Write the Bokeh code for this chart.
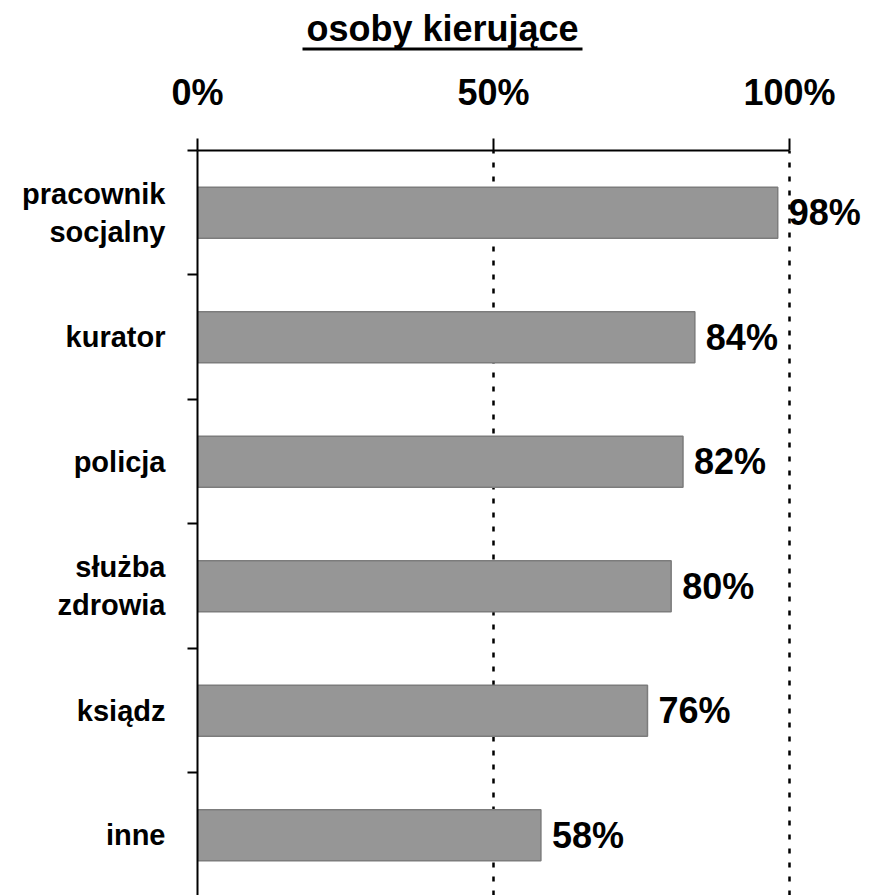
from bokeh.plotting import figure
from bokeh.layouts import column
from bokeh.models import Range1d, FixedTicker, ColumnDataSource
from bokeh.core.properties import value
from bokeh.embed import file_html
from bokeh.resources import INLINE

title_text = "osoby kierujące"
categories = ["pracownik\nsocjalny", "kurator", "policja", "służba\nzdrowia", "ksiądz", "inne"]
values = [98, 84, 82, 80, 76, 58]
tick_values = [0, 50, 100]
tick_labels = ["0%", "50%", "100%"]

FONT = "Liberation Sans"
W = 869
LEFT = 197
TH = 60          # title strip height
H = 895 - TH     # main chart height

# ---- title strip (text + underline), pixel coordinates ----
t = figure(width=W, height=TH, output_backend="svg", toolbar_location=None,
           x_range=Range1d(LEFT, W), y_range=Range1d(TH, 0),
           min_border_left=LEFT, min_border_right=0, min_border_top=0,
           min_border_bottom=0, outline_line_color=None)
t.axis.visible = False
t.grid.visible = False
t.text(x=[442], y=[28], text=[title_text], text_font=value(FONT),
       text_font_style="bold", text_font_size="36px",
       text_align="center", text_baseline="middle", text_color="black")
t.quad(left=[302], right=[582], top=[47], bottom=[50],
       fill_color="black", line_color=None)

# ---- main chart ----
n = len(categories)
centers = [n - i - 0.5 for i in range(n)]
boundaries = [float(k) for k in range(1, n + 1)]

p = figure(width=W, height=H, output_backend="svg", toolbar_location=None,
           x_axis_location="above",
           x_range=Range1d(0, 113.5), y_range=Range1d(0.016, 6.0),
           min_border_left=LEFT, min_border_right=0, min_border_top=150 - TH,
           min_border_bottom=0)
p.outline_line_color = None

src = ColumnDataSource(dict(y=centers, v=values, lab=[f"{v}%" for v in values]))
p.hbar(y="y", right="v", left=0, height=0.41, source=src,
       fill_color="#969696", line_color="#7c7c7c", line_width=1.5)
p.text(x="v", y="y", text="lab", source=src, x_offset=11,
       text_font=value(FONT), text_font_style="bold", text_font_size="36px",
       text_baseline="middle", text_align="left", text_color="black")

xa = p.xaxis[0]
xa.ticker = FixedTicker(ticks=tick_values)
xa.major_label_overrides = {tv: tl for tv, tl in zip(tick_values, tick_labels)}
xa.bounds = (0, 100)
xa.axis_line_width = 2
xa.axis_line_color = "black"
xa.major_tick_out = 12
xa.major_tick_in = 0
xa.major_tick_line_width = 2
xa.major_tick_line_color = "black"
xa.minor_tick_line_color = None
xa.major_label_standoff = 26
xa.major_label_text_font = FONT
xa.major_label_text_font_style = "bold"
xa.major_label_text_font_size = "36px"
xa.major_label_text_color = "black"

ya = p.yaxis[0]
ya.ticker = FixedTicker(ticks=centers, minor_ticks=boundaries)
ya.major_label_overrides = {c: l for c, l in zip(centers, categories)}
ya.axis_line_width = 2
ya.axis_line_color = "black"
ya.major_tick_out = 0
ya.major_tick_in = 0
ya.minor_tick_out = 10
ya.minor_tick_in = 0
ya.minor_tick_line_width = 2
ya.minor_tick_line_color = "black"
ya.major_label_standoff = 22
ya.major_label_text_font = FONT
ya.major_label_text_font_style = "bold"
ya.major_label_text_font_size = "29px"
ya.major_label_text_color = "black"
ya.major_label_text_align = "center"

p.ygrid.grid_line_color = None
p.xgrid.ticker = FixedTicker(ticks=[50, 100])
p.xgrid.grid_line_color = "black"
p.xgrid.grid_line_width = 2.5
p.xgrid.grid_line_dash = "5 9"

layout = column(t, p, spacing=0)
open("out.html", "w").write(file_html(layout, INLINE))
